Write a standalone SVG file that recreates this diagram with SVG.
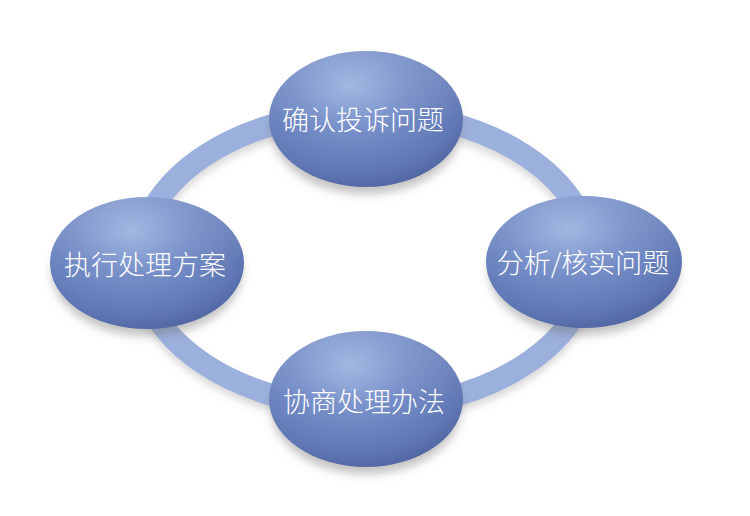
<svg xmlns="http://www.w3.org/2000/svg" width="750" height="516" viewBox="0 0 750 516">
  <defs>
    <radialGradient id="nodeFill" cx="0.42" cy="0.3" r="0.75" fx="0.42" fy="0.26">
      <stop offset="0" stop-color="#9cb3e0"/>
      <stop offset="0.4" stop-color="#7890c9"/>
      <stop offset="0.8" stop-color="#5f77b4"/>
      <stop offset="1" stop-color="#4d63a0"/>
    </radialGradient>
    <linearGradient id="gloss" x1="0" y1="0" x2="0" y2="1">
      <stop offset="0" stop-color="#ffffff" stop-opacity="0.12"/>
      <stop offset="0.5" stop-color="#ffffff" stop-opacity="0"/>
    </linearGradient>
    <filter id="softShadow" x="-30%" y="-30%" width="160%" height="160%">
      <feGaussianBlur stdDeviation="5"/>
    </filter>
    <filter id="ringShadow" x="-20%" y="-20%" width="140%" height="140%">
      <feGaussianBlur stdDeviation="4"/>
    </filter>
  </defs>
  <style>
    .ring { fill: none; stroke: #9bb0dd; stroke-width: 22; }
    .ringShadow { fill: none; stroke: #8a8a8a; stroke-opacity: 0.35; stroke-width: 20; filter: url(#ringShadow); }
    .shadow { fill: #777777; fill-opacity: 0.45; filter: url(#softShadow); }
    .node { fill: url(#nodeFill); }
    .gloss { fill: url(#gloss); }
    .label { fill: #ffffff; font-family: "Noto Sans CJK SC", "Noto Sans", sans-serif; font-size: 27px; font-weight: 300; text-anchor: middle; }
  </style>
  <rect width="750" height="516" fill="#ffffff"/>
  <g id="connectors">
    <ellipse class="ringShadow" cx="365" cy="266" rx="226" ry="148"/>
    <ellipse class="ring" cx="365" cy="260" rx="226" ry="148"/>
  </g>
  <g id="node-top">
    <ellipse class="shadow" cx="366" cy="128" rx="95" ry="66"/>
    <ellipse class="node" cx="366" cy="119" rx="97" ry="68"/>
    <ellipse class="gloss" cx="366" cy="119" rx="97" ry="68"/>
    <text class="label" x="363" y="130">确认投诉问题</text>
  </g>
  <g id="node-right">
    <ellipse class="shadow" cx="584" cy="271" rx="95" ry="64"/>
    <ellipse class="node" cx="584" cy="262" rx="98" ry="66"/>
    <ellipse class="gloss" cx="584" cy="262" rx="98" ry="66"/>
    <text class="label" x="583" y="273">分析/核实问题</text>
  </g>
  <g id="node-bottom">
    <ellipse class="shadow" cx="366" cy="408" rx="95" ry="66"/>
    <ellipse class="node" cx="366" cy="399" rx="97" ry="68"/>
    <ellipse class="gloss" cx="366" cy="399" rx="97" ry="68"/>
    <text class="label" x="364" y="412">协商处理办法</text>
  </g>
  <g id="node-left">
    <ellipse class="shadow" cx="147" cy="272" rx="95" ry="64"/>
    <ellipse class="node" cx="147" cy="263" rx="97" ry="66"/>
    <ellipse class="gloss" cx="147" cy="263" rx="97" ry="66"/>
    <text class="label" x="145" y="275">执行处理方案</text>
  </g>
</svg>
